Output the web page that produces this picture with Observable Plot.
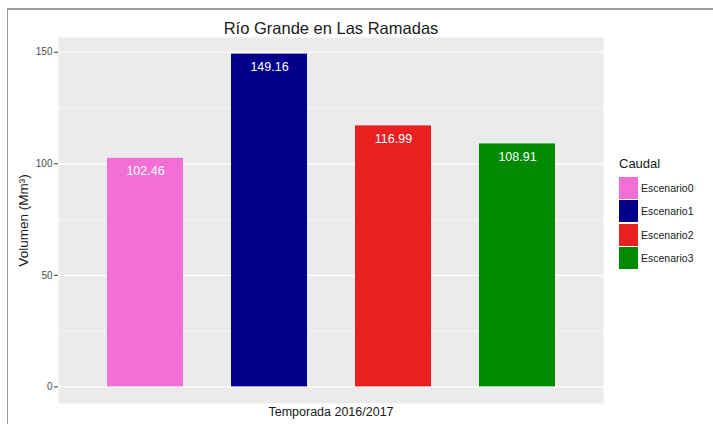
<!DOCTYPE html>
<html>
<head>
<meta charset="utf-8">
<script src="https://cdn.jsdelivr.net/npm/d3@7"></script>
<script src="https://cdn.jsdelivr.net/npm/@observablehq/plot@0.6"></script>
<style>
  html, body { margin: 0; padding: 0; background: #fff; }
  body { width: 713px; height: 424px; position: relative; overflow: hidden; font-family: "Liberation Sans", Arial, sans-serif; }
  #chart { position: absolute; left: 0; top: 0; }
  #frame { position: absolute; left: 7px; top: 8px; width: 720px; height: 430px; border-left: 1px solid #9a9a9a; border-top: 2px solid #9a9a9a; box-sizing: border-box; }
  #legend { position: absolute; left: 619px; top: 156px; color: #1a1a1a; }
  #legend .title { font-size: 13px; margin-bottom: 5px; }
  #legend .row { display: flex; align-items: center; height: 23.5px; }
  #legend .key { width: 19px; height: 22px; margin-right: 3px; }
  #legend .lab { font-size: 10.5px; color: #1a1a1a; }
</style>
</head>
<body>
<div id="frame"></div>
<div id="chart"></div>
<div id="legend"></div>
<script>
const categories = ["Escenario0", "Escenario1", "Escenario2", "Escenario3"];
const values = [102.46, 149.16, 116.99, 108.91];
const colors = ["#f270d6", "#00008b", "#ea2020", "#008a00"];
const yTicks = [0, 50, 100, 150];
const yMinor = [25, 75, 125];
const title = "Río Grande en Las Ramadas";
const xTitle = "Temporada 2016/2017";
const yTitle = "Volumen (Mm³)";
const legendTitle = "Caudal";

const data = categories.map((c, i) => ({ cat: c, value: values[i] }));
const maxV = d3.max(values);
const pad = maxV * 0.05;

const chart = Plot.plot({
  width: 713,
  height: 424,
  marginLeft: 58,
  marginRight: 110,
  marginTop: 37,
  marginBottom: 21,
  style: { fontFamily: "Liberation Sans, Arial, sans-serif", background: "transparent" },
  x: { domain: categories, padding: 0.39, axis: null },
  y: { domain: [-pad, maxV + pad] },
  color: { domain: categories, range: colors },
  marks: [
    Plot.frame({ fill: "#ebebeb", stroke: null }),
    Plot.ruleY(yMinor, { stroke: "#ffffff", strokeWidth: 0.6 }),
    Plot.ruleY(yTicks, { stroke: "#ffffff", strokeWidth: 1.2 }),
    Plot.barY(data, { x: "cat", y: "value", fill: "cat" }),
    Plot.text(data, { x: "cat", y: "value", text: d => d.value.toFixed(2), dy: 13, fill: "#ffffff", fontSize: 12.5 }),
    Plot.axisY(yTicks, {
      tickSize: 4, tickPadding: 2, stroke: "#333333", fill: "#4d4d4d", fontSize: 10,
      label: yTitle, labelAnchor: "center", labelArrow: "none", labelOffset: 40
    }),
    Plot.text([title], { frameAnchor: "top", dy: -15, fontSize: 16.5, fill: "#1a1a1a" }),
    Plot.text([xTitle], { frameAnchor: "bottom", dy: 12, fontSize: 12.5, fill: "#1a1a1a" })
  ]
});
d3.select(chart).selectAll("[aria-label='y-axis label'] text").attr("font-size", 13.5).attr("fill", "#1a1a1a");
document.getElementById("chart").appendChild(chart);

const legend = document.getElementById("legend");
const t = document.createElement("div");
t.className = "title";
t.textContent = legendTitle;
legend.appendChild(t);
categories.forEach((c, i) => {
  const row = document.createElement("div");
  row.className = "row";
  const k = document.createElement("div");
  k.className = "key";
  k.style.background = colors[i];
  const l = document.createElement("div");
  l.className = "lab";
  l.textContent = c;
  row.appendChild(k);
  row.appendChild(l);
  legend.appendChild(row);
});
</script>
</body>
</html>
